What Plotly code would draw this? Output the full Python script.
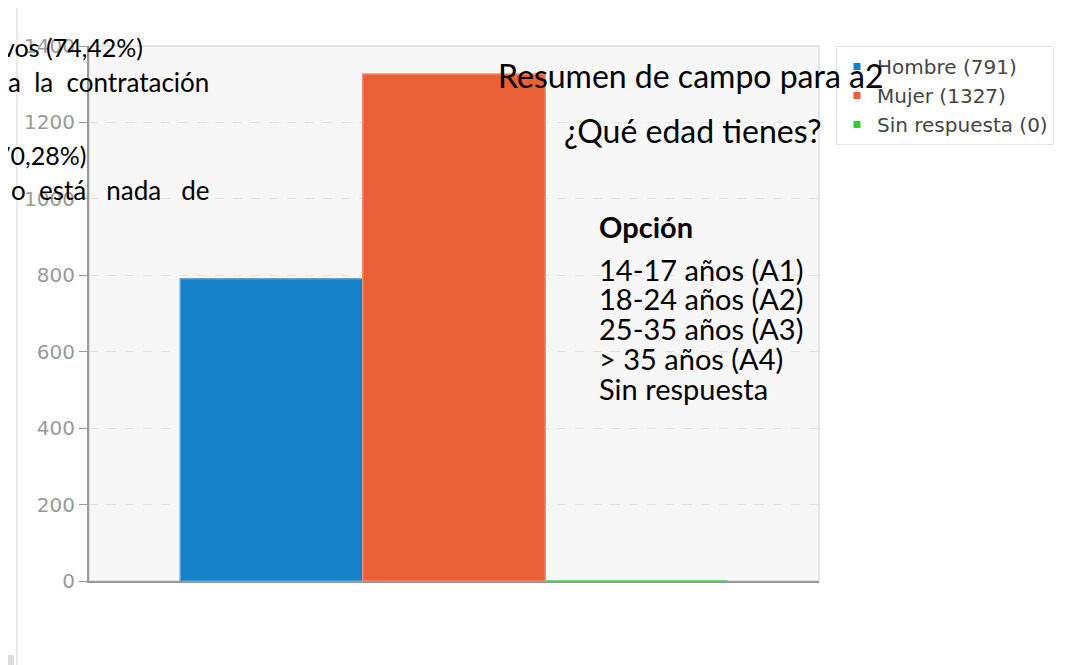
import plotly.graph_objects as go

# datos del campo a2
categorias = ["a2"]
series = ["Hombre", "Mujer", "Sin respuesta"]
valores = [791, 1327, 0]
colores = ["#1581c9", "#e95f36", "#33cc33"]
bordes = ["#5aa6dc", "#f08e70", "#44dd44"]

titulo = "Resumen de campo para a2"
pregunta = "¿Qué edad tienes?"
cabecera = "Opción"
opciones = ["14-17 años (A1)", "18-24 años (A2)", "25-35 años (A3)",
            "> 35 años (A4)", "Sin respuesta"]
# restos de texto del documento que quedan encima del grafico
NB = "\u00a0"
restos = ["vos (74,42%)", "a" + NB * 2 + "la" + NB * 2 + "contratación",
          "70,28%)", "o" + NB * 2 + "está" + NB * 3 + "nada" + NB * 3 + "de"]

W, H = 1080, 665
OFF = 8  # margen del body de la pagina
# area de trazado en pixeles de la pagina
L, R, T, B = 89, 819, 46, 581


def px(x):
    return (x - L) / (R - L)


def py(y):
    return (B - y) / (B - T)


fig = go.Figure()

for nombre, v, c, bc in zip(series, valores, colores, bordes):
    fig.add_trace(go.Bar(x=categorias, y=[v], name=nombre, marker_color=c,
                         marker_line=dict(color=bc, width=1.5), showlegend=False))
    # entrada de leyenda con cuadrado pequeño
    fig.add_trace(go.Scatter(x=[None], y=[None], mode="markers", name=f"{nombre} ({v})",
                             marker=dict(symbol="square", size=7, color=c)))

texto = "Lato, Open Sans, sans-serif"
anots = []
anots.append(dict(text=titulo, x=px(690), y=py(75), xanchor="center", font=dict(size=32)))
anots.append(dict(text=pregunta, x=px(693), y=py(130), xanchor="center", font=dict(size=32)))
anots.append(dict(text="<b>" + cabecera + "</b>", x=px(597), y=py(227),
                  xanchor="left", font=dict(size=29)))
for i, op in enumerate(opciones):
    anots.append(dict(text=op, x=px(597), y=py(269 + i * 29.8), xanchor="left",
                      font=dict(size=29)))
# posicion (borde derecho, centro vertical, tamaño) de cada resto
pos_restos = [(145, 47, 25), (211, 82, 26), (88, 155, 25), (211, 190, 26)]
for t, (xr, y, s) in zip(restos, pos_restos):
    anots.append(dict(text=t, x=px(xr), y=py(y), xanchor="right", font=dict(size=s)))
for a in anots:
    a.update(xref="paper", yref="paper", showarrow=False, yanchor="middle")
    a["font"].update(family=texto, color="#000000")

fig.update_layout(
    width=W, height=H,
    margin=dict(l=L - OFF, r=W - R + OFF, t=T - OFF, b=H - B + OFF),
    paper_bgcolor="white",
    plot_bgcolor="#f7f7f7",
    barmode="group", bargap=0.25, bargroupgap=0,
    font=dict(family="DejaVu Sans", size=20, color="#999999"),
    legend=dict(x=px(836), y=py(46), xanchor="left", yanchor="top",
                bgcolor="white", bordercolor="#e2e2e2", borderwidth=1,
                font=dict(family="DejaVu Sans", size=20, color="#444444"),
                itemsizing="trace"),
    annotations=anots,
    shapes=[
        dict(type="rect", xref="paper", yref="paper", x0=px(17), x1=px(1075),
             y0=py(720), y1=py(7), line=dict(color="#e4e4e4", width=1.5), layer="below"),
        dict(type="rect", xref="paper", yref="paper", x0=0, x1=1, y0=0, y1=1,
             line=dict(color="#dddddd", width=1.5), layer="below"),
        dict(type="rect", xref="paper", yref="paper", x0=px(0), x1=px(14),
             y0=py(665), y1=py(655), line=dict(width=0), fillcolor="#dddddd"),
    ],
)
fig.update_xaxes(showticklabels=False, showgrid=False, showline=True,
                 linecolor="#999999", linewidth=2, ticks="", zeroline=False)
fig.update_yaxes(range=[0, 1400], dtick=200, showgrid=True, gridcolor="#e2e2e2",
                 griddash="dash", showline=True, linecolor="#999999", linewidth=2,
                 ticks="outside", ticklen=8, tickcolor="#999999", zeroline=False,
                 tickfont=dict(family="DejaVu Sans", size=20, color="#999999"))

fig.write_html("out.html")
